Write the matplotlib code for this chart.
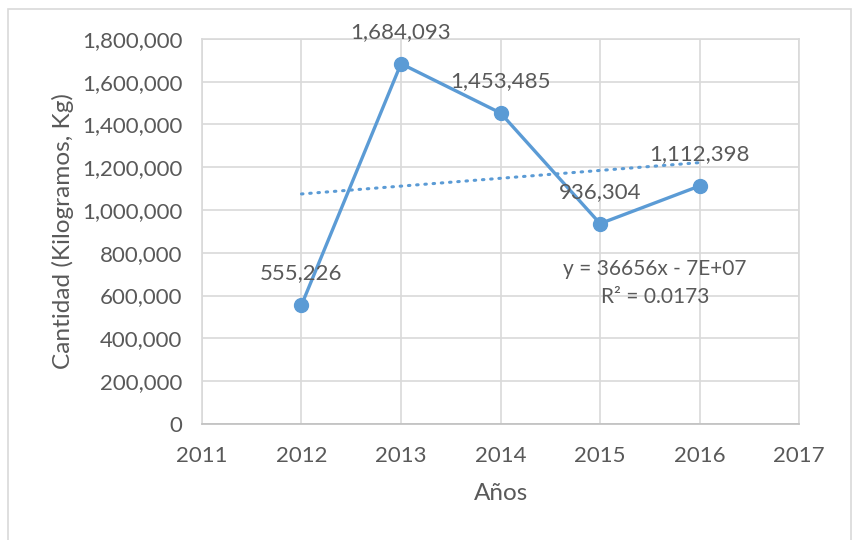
import matplotlib.pyplot as plt
from matplotlib.patches import Rectangle
from matplotlib.ticker import FuncFormatter
import numpy as np

years = [2012, 2013, 2014, 2015, 2016]
cantidad = [555226, 1684093, 1453485, 936304, 1112398]
x_ticks = [2011, 2012, 2013, 2014, 2015, 2016, 2017]
y_ticks = [0, 200000, 400000, 600000, 800000, 1000000, 1200000, 1400000, 1600000, 1800000]
eq_text = "y = 36656x - 7E+07"
r2_text = "R² = 0.0173"

blue = '#5B9BD5'
txt = '#595959'
grid_c = '#D9D9D9'

plt.rcParams['font.family'] = ['Lato', 'DejaVu Sans']

fig = plt.figure(figsize=(8.52, 5.4), dpi=100)
ax = fig.add_axes([0.237, 0.215, 0.701, 0.713])

# outer chart border
fig.patches.append(Rectangle((8 / 852, -0.01), 843 / 852, 1 - 9 / 540 + 0.01,
                             transform=fig.transFigure, fill=False,
                             edgecolor=grid_c, linewidth=1.2))

ax.plot(years, cantidad, color=blue, linewidth=2.4, marker='o', markersize=10,
        zorder=3)

# linear trend line
coef = np.polyfit(years, cantidad, 1)
x_tr = np.array([years[0], years[-1]])
ax.plot(x_tr, np.polyval(coef, x_tr), color=blue, linewidth=2.2,
        linestyle=(0, (0.5, 2.2)), dash_capstyle='round', zorder=2)

for xv, yv in zip(years, cantidad):
    ax.annotate(f"{yv:,}", (xv, yv), xytext=(0, 23), textcoords='offset points',
                ha='center', va='center', fontsize=16, color=txt, zorder=4)

ax.text(2015.55, 725000, eq_text, ha='center', va='center', fontsize=15, color=txt)
ax.text(2015.55, 594000, r2_text, ha='center', va='center', fontsize=15, color=txt)

ax.set_xlim(2011, 2017)
ax.set_ylim(0, 1800000)
ax.set_xticks(x_ticks)
ax.set_yticks(y_ticks)
ax.yaxis.set_major_formatter(FuncFormatter(lambda v, p: f"{int(v):,}"))
ax.grid(True, color=grid_c, linewidth=1.2)
ax.set_axisbelow(True)
ax.tick_params(length=0, labelsize=16, labelcolor=txt)
ax.tick_params(axis='y', pad=14)
ax.tick_params(axis='x', pad=16)
for side in ['top', 'right', 'left']:
    ax.spines[side].set_color(grid_c)
    ax.spines[side].set_linewidth(1.2)
ax.spines['bottom'].set_color('#BFBFBF')
ax.spines['bottom'].set_linewidth(1.2)

ax.set_xlabel("Años", fontsize=17.5, color=txt, labelpad=12)
ax.set_ylabel("Cantidad (Kilogramos, Kg)", fontsize=17.6, color=txt)
ax.yaxis.set_label_coords(-0.214, 0.5)

fig.savefig('out.png', dpi=100)
